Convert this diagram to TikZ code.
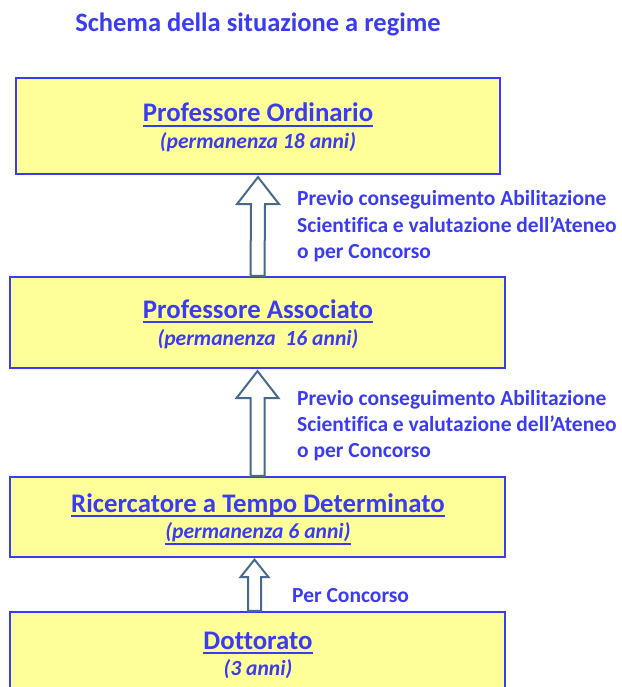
\documentclass[tikz,border=0pt]{standalone}
\usepackage{fontspec}
\setmainfont[Ligatures=NoCommon]{Carlito}
\usetikzlibrary{calc}
\definecolor{txtblue}{HTML}{3B3BF2}
\definecolor{boxline}{HTML}{3A3AF8}
\definecolor{boxfill}{HTML}{FFFF99}
\definecolor{arrowc}{HTML}{46698C}
\newcommand\ulhead[1]{\setbox0\hbox{#1}\rlap{\rule[-5.2pt]{\wd0}{1.8pt}}\box0}
\newcommand\ulsub[1]{\setbox0\hbox{#1}\rlap{\rule[-6.4pt]{\wd0}{1.6pt}}\box0}
\tikzset{
  stagebox/.style={draw=boxline, line width=2.2pt, fill=boxfill, inner sep=0pt},
  headtext/.style={text=txtblue, font=\bfseries\fontsize{26.8}{30}\selectfont, inner sep=0pt, anchor=base},
  subtext/.style={text=txtblue, font=\bfseries\itshape\fontsize{21.6}{25}\selectfont, inner sep=0pt, anchor=base},
  lbl/.style={text=txtblue, font=\bfseries\fontsize{21.5}{25}\selectfont, inner sep=0pt, anchor=base west},
  bigarrow/.style={draw=arrowc, line width=2pt, fill=white, line join=miter}
}
\begin{document}
\begin{tikzpicture}[x=1pt,y=-1pt]
\useasboundingbox (0,0) rectangle (621,687);
\clip (0,0) rectangle (621,687);
\node[text=txtblue, font=\bfseries\fontsize{26.5}{30}\selectfont, inner sep=0pt, anchor=base] (title) at (258,32) {Schema della situazione a regime};
% boxes
\node[stagebox, minimum width=484pt, minimum height=96pt] (b1) at (258,126) {};
\node[stagebox, minimum width=495pt, minimum height=91pt] (b2) at (257.5,322.5) {};
\node[stagebox, minimum width=495pt, minimum height=80pt] (b3) at (257.5,517) {};
\node[stagebox, minimum width=495pt, minimum height=110pt] (b4) at (257.5,667) {};
% texts
\node[headtext] (t1) at (258,122) {\ulhead{Professore Ordinario}};
\node[subtext] (s1) at (258,148.5) {(permanenza 18 anni)};
\node[headtext] (t2) at (258,318) {\ulhead{Professore Associato}};
\node[subtext] (s2) at (258,345) {(permanenza~~16 anni)};
\node[headtext] (t3) at (258,512) {\ulhead{Ricercatore a Tempo Determinato}};
\node[subtext] (s3) at (258,538.5) {\ulsub{(permanenza 6 anni)}};
\node[headtext] (t4) at (258,649) {\ulhead{Dottorato}};
\node[subtext] (s4) at (258,675) {(3 anni)};
% arrows
\draw[bigarrow] ($(b2.north)+(-7,0)$) -- ($(b1.south)+(-7,29)$) -- ($(b1.south)+(-21,29)$) -- ($(b1.south)+(0,2)$) -- ($(b1.south)+(21,29)$) -- ($(b1.south)+(7,29)$) -- ($(b2.north)+(7,0)$) -- cycle;
\draw[bigarrow] ($(b3.north)+(-7,0)$) -- ($(b2.south)+(-7,29)$) -- ($(b2.south)+(-21,29)$) -- ($(b2.south)+(0,2)$) -- ($(b2.south)+(21,29)$) -- ($(b2.south)+(7,29)$) -- ($(b3.north)+(7,0)$) -- cycle;
\draw[bigarrow] ($(b4.north)+(-9.5,0)$) -- ($(b3.south)+(-9.5,19)$) -- ($(b3.south)+(-17,19)$) -- ($(b3.south)+(-3,1.5)$) -- ($(b3.south)+(11,19)$) -- ($(b3.south)+(3.5,19)$) -- ($(b4.north)+(3.5,0)$) -- cycle;
% labels
\node[lbl] (l1a) at (297,205) {Previo conseguimento Abilitazione};
\node[lbl] (l1b) at (297,232) {Scientifica e valutazione dell’Ateneo};
\node[lbl] (l1c) at (297,258) {o per Concorso};
\node[lbl] (l2a) at (297,405) {Previo conseguimento Abilitazione};
\node[lbl] (l2b) at (297,431) {Scientifica e valutazione dell’Ateneo};
\node[lbl] (l2c) at (297,457) {o per Concorso};
\node[lbl] (l3) at (292,602) {Per Concorso};
\end{tikzpicture}
\end{document}
